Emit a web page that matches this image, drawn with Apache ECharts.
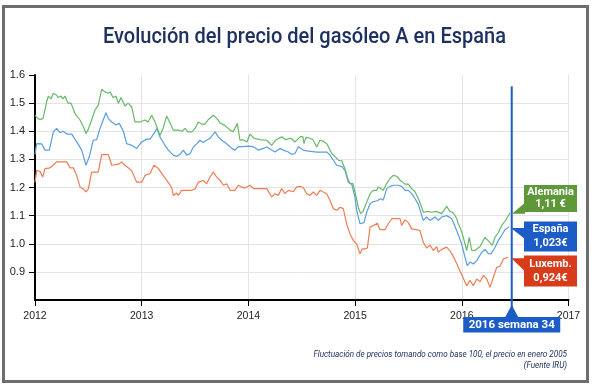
<!DOCTYPE html>
<html><head><meta charset="utf-8">
<script src="https://cdn.jsdelivr.net/npm/echarts@6/dist/echarts.min.js"></script>
<style>html,body{margin:0;padding:0;background:#fff}#c{width:594px;height:389px}</style>
</head><body><div id="c"></div>
<script>
// ---- data (decimal year, price) ----
const alemania = [[2012.000,1.457],[2012.028,1.445],[2012.047,1.442],[2012.075,1.445],[2012.110,1.505],[2012.125,1.525],[2012.150,1.515],[2012.172,1.535],[2012.197,1.530],[2012.216,1.520],[2012.244,1.525],[2012.262,1.515],[2012.281,1.525],[2012.309,1.500],[2012.337,1.500],[2012.375,1.463],[2012.422,1.440],[2012.453,1.416],[2012.478,1.392],[2012.497,1.405],[2012.531,1.440],[2012.562,1.475],[2012.593,1.493],[2012.625,1.549],[2012.656,1.540],[2012.684,1.535],[2012.703,1.540],[2012.731,1.520],[2012.759,1.525],[2012.781,1.499],[2012.806,1.520],[2012.843,1.490],[2012.872,1.500],[2012.906,1.487],[2012.937,1.433],[2012.984,1.433],[2013.031,1.440],[2013.059,1.433],[2013.094,1.457],[2013.125,1.433],[2013.171,1.385],[2013.200,1.410],[2013.234,1.454],[2013.265,1.430],[2013.296,1.404],[2013.340,1.404],[2013.378,1.400],[2013.406,1.410],[2013.434,1.398],[2013.471,1.398],[2013.500,1.410],[2013.530,1.433],[2013.565,1.425],[2013.593,1.425],[2013.621,1.440],[2013.671,1.457],[2013.706,1.445],[2013.734,1.430],[2013.781,1.420],[2013.828,1.404],[2013.858,1.398],[2013.896,1.428],[2013.921,1.368],[2013.949,1.370],[2013.987,1.362],[2014.015,1.390],[2014.053,1.375],[2014.109,1.370],[2014.172,1.368],[2014.218,1.350],[2014.259,1.370],[2014.312,1.380],[2014.352,1.370],[2014.399,1.375],[2014.437,1.362],[2014.484,1.380],[2014.509,1.382],[2014.521,1.356],[2014.540,1.378],[2014.577,1.375],[2014.605,1.370],[2014.640,1.344],[2014.671,1.368],[2014.699,1.365],[2014.737,1.355],[2014.781,1.321],[2014.812,1.310],[2014.843,1.297],[2014.874,1.295],[2014.905,1.267],[2014.933,1.230],[2014.952,1.214],[2014.980,1.214],[2014.999,1.184],[2015.030,1.130],[2015.052,1.107],[2015.074,1.115],[2015.109,1.148],[2015.140,1.178],[2015.171,1.190],[2015.202,1.190],[2015.217,1.202],[2015.233,1.196],[2015.264,1.190],[2015.296,1.214],[2015.327,1.232],[2015.358,1.243],[2015.390,1.240],[2015.421,1.226],[2015.468,1.212],[2015.499,1.212],[2015.530,1.196],[2015.562,1.185],[2015.593,1.160],[2015.624,1.130],[2015.639,1.112],[2015.683,1.115],[2015.718,1.112],[2015.758,1.115],[2015.812,1.107],[2015.858,1.133],[2015.889,1.115],[2015.920,1.110],[2015.952,1.090],[2015.967,1.071],[2015.992,1.050],[2016.014,1.023],[2016.046,0.976],[2016.070,1.023],[2016.093,0.976],[2016.124,0.976],[2016.171,0.990],[2016.218,1.023],[2016.249,1.010],[2016.286,0.994],[2016.311,1.023],[2016.343,1.040],[2016.374,1.065],[2016.405,1.080],[2016.452,1.110]];

const espana = [[2012.000,1.318],[2012.016,1.356],[2012.031,1.350],[2012.063,1.355],[2012.094,1.333],[2012.134,1.333],[2012.172,1.398],[2012.203,1.410],[2012.234,1.395],[2012.265,1.400],[2012.297,1.390],[2012.344,1.390],[2012.391,1.362],[2012.438,1.333],[2012.478,1.279],[2012.509,1.310],[2012.546,1.368],[2012.578,1.370],[2012.609,1.410],[2012.665,1.466],[2012.687,1.445],[2012.719,1.433],[2012.759,1.422],[2012.790,1.428],[2012.828,1.400],[2012.859,1.356],[2012.906,1.350],[2012.953,1.339],[2013.000,1.362],[2013.047,1.372],[2013.078,1.372],[2013.125,1.398],[2013.141,1.410],[2013.171,1.380],[2013.218,1.350],[2013.249,1.333],[2013.296,1.315],[2013.328,1.310],[2013.359,1.318],[2013.390,1.333],[2013.422,1.315],[2013.453,1.320],[2013.484,1.344],[2013.515,1.355],[2013.546,1.368],[2013.577,1.360],[2013.609,1.368],[2013.640,1.375],[2013.687,1.398],[2013.718,1.380],[2013.750,1.368],[2013.781,1.360],[2013.812,1.350],[2013.843,1.339],[2013.874,1.333],[2013.905,1.345],[2013.949,1.345],[2013.999,1.347],[2014.015,1.354],[2014.046,1.345],[2014.093,1.333],[2014.140,1.339],[2014.172,1.344],[2014.218,1.333],[2014.249,1.326],[2014.296,1.339],[2014.327,1.333],[2014.374,1.326],[2014.406,1.318],[2014.437,1.321],[2014.468,1.345],[2014.484,1.347],[2014.514,1.333],[2014.546,1.330],[2014.640,1.326],[2014.734,1.326],[2014.765,1.315],[2014.796,1.297],[2014.828,1.279],[2014.874,1.275],[2014.905,1.261],[2014.936,1.219],[2014.968,1.212],[2014.999,1.166],[2015.015,1.119],[2015.046,1.071],[2015.062,1.065],[2015.083,1.075],[2015.109,1.112],[2015.140,1.142],[2015.171,1.150],[2015.202,1.152],[2015.240,1.160],[2015.264,1.155],[2015.296,1.196],[2015.327,1.204],[2015.358,1.208],[2015.405,1.208],[2015.436,1.204],[2015.468,1.190],[2015.499,1.190],[2015.530,1.178],[2015.562,1.160],[2015.593,1.140],[2015.624,1.101],[2015.639,1.083],[2015.671,1.095],[2015.702,1.083],[2015.749,1.095],[2015.780,1.083],[2015.812,1.095],[2015.858,1.100],[2015.905,1.090],[2015.952,1.047],[2015.999,0.999],[2016.030,0.952],[2016.052,0.922],[2016.077,0.935],[2016.108,0.928],[2016.140,0.940],[2016.187,0.970],[2016.218,0.980],[2016.249,0.965],[2016.274,0.964],[2016.308,0.985],[2016.343,1.012],[2016.374,1.030],[2016.405,1.050],[2016.442,1.060]];

const luxemburgo = [[2012.000,1.218],[2012.016,1.261],[2012.047,1.257],[2012.072,1.237],[2012.094,1.267],[2012.141,1.270],[2012.172,1.280],[2012.203,1.291],[2012.297,1.291],[2012.328,1.270],[2012.359,1.270],[2012.391,1.243],[2012.422,1.202],[2012.453,1.195],[2012.478,1.184],[2012.500,1.195],[2012.531,1.255],[2012.593,1.255],[2012.625,1.317],[2012.687,1.317],[2012.719,1.279],[2012.781,1.283],[2012.813,1.291],[2012.843,1.279],[2012.874,1.270],[2012.906,1.260],[2012.953,1.219],[2013.000,1.219],[2013.031,1.243],[2013.078,1.250],[2013.115,1.279],[2013.156,1.268],[2013.187,1.250],[2013.234,1.226],[2013.281,1.200],[2013.296,1.172],[2013.328,1.180],[2013.343,1.172],[2013.375,1.190],[2013.469,1.190],[2013.500,1.195],[2013.530,1.219],[2013.577,1.225],[2013.609,1.213],[2013.640,1.237],[2013.671,1.255],[2013.703,1.237],[2013.734,1.226],[2013.765,1.208],[2013.797,1.213],[2013.828,1.190],[2013.874,1.190],[2013.905,1.208],[2013.937,1.202],[2013.968,1.198],[2014.015,1.208],[2014.046,1.196],[2014.172,1.196],[2014.218,1.166],[2014.249,1.178],[2014.280,1.172],[2014.312,1.196],[2014.343,1.178],[2014.374,1.190],[2014.421,1.185],[2014.453,1.202],[2014.484,1.204],[2014.514,1.200],[2014.546,1.178],[2014.577,1.172],[2014.608,1.184],[2014.640,1.172],[2014.671,1.190],[2014.702,1.184],[2014.734,1.178],[2014.765,1.154],[2014.796,1.125],[2014.828,1.119],[2014.859,1.130],[2014.889,1.125],[2014.921,1.071],[2014.952,1.035],[2014.983,1.012],[2015.015,0.999],[2015.046,0.964],[2015.067,0.982],[2015.093,0.982],[2015.115,0.985],[2015.140,1.059],[2015.171,1.065],[2015.208,1.073],[2015.233,1.050],[2015.280,1.050],[2015.311,1.071],[2015.343,1.089],[2015.390,1.089],[2015.421,1.089],[2015.436,1.065],[2015.468,1.085],[2015.499,1.075],[2015.530,1.053],[2015.577,1.050],[2015.608,1.047],[2015.639,1.005],[2015.671,0.985],[2015.702,0.995],[2015.733,0.976],[2015.765,0.990],[2015.780,0.970],[2015.812,0.980],[2015.858,0.988],[2015.889,0.975],[2015.920,0.955],[2015.952,0.930],[2015.999,0.890],[2016.046,0.851],[2016.077,0.870],[2016.108,0.851],[2016.140,0.875],[2016.171,0.865],[2016.202,0.887],[2016.234,0.875],[2016.264,0.845],[2016.295,0.880],[2016.327,0.916],[2016.358,0.920],[2016.390,0.946],[2016.436,0.952]];

const seriesNames = ['Alemania', 'España', 'Luxemb.'];
const endValueLabels = ['1,11 €', '1,023€', '0,924€'];
const xYears = [2012, 2013, 2014, 2015, 2016, 2017];
const yRange = [0.8, 1.6];
const markerYear = 2016.468;
const markerLabel = '2016 semana 34';
const titleText = 'Evolución del precio del gasóleo A en España';
const noteLines = ['Fluctuación de precios tomando como base 100, el precio en enero 2005', '(Fuente IRU)'];

// ---- styling ----
const lineColors = ['#67b868', '#5b9ee0', '#ee7c55'];
const boxColors = ['#5f9838', '#1c5cc6', '#d83b1a'];
const navy = '#1e3160';

const chart = echarts.init(document.getElementById('c'), null, {renderer: 'canvas'});
const seriesData = [alemania, espana, luxemburgo];

chart.setOption({
  animation: false,
  backgroundColor: '#fff',
  grid: {left: 35, right: 25.5, top: 75, bottom: 89, containLabel: false},
  xAxis: {
    type: 'value', min: xYears[0], max: xYears[xYears.length - 1], interval: 1,
    axisLine: {onZero: false, lineStyle: {color: '#000', width: 2}},
    axisTick: {show: true, length: 6, lineStyle: {color: '#000', width: 1}},
    axisLabel: {margin: 11, color: '#222', fontSize: 10.5, fontFamily: 'Liberation Sans', formatter: v => String(v)},
    splitLine: {show: true, lineStyle: {color: '#e4e4e4', width: 1}}
  },
  yAxis: {
    type: 'value', min: yRange[0], max: yRange[1], interval: 0.1,
    axisLine: {show: true, lineStyle: {color: '#000', width: 2}},
    axisTick: {show: true, length: 6, lineStyle: {color: '#000', width: 1}},
    axisLabel: {margin: 10, color: '#222', fontSize: 11, fontFamily: 'Liberation Sans', showMinLabel: false, formatter: v => v.toFixed(1)},
    splitLine: {show: true, showMaxLine: false, lineStyle: {color: '#e4e4e4', width: 1}}
  },
  series: seriesData.map((d, i) => ({
    name: seriesNames[i], type: 'line', data: d, showSymbol: false, symbol: 'none',
    lineStyle: {color: lineColors[i], width: 1.2}, z: 3 - i
  }))
});

// ---- annotations positioned from the library's scales ----
const ends = seriesData.map(d => chart.convertToPixel({gridIndex: 0}, d[d.length - 1]));
const mx = chart.convertToPixel({xAxisIndex: 0}, markerYear);
const mTop = chart.convertToPixel({yAxisIndex: 0}, 1.56);

const boxLeft = 524, boxW = 53;
const boxes = [
  {top: 185, h: 27, tri: e => [[e[0] + 2, e[1] + 1], [boxLeft + 1, e[1] - 10], [boxLeft + 1, e[1] + 1]]},
  {top: 221.5, h: 30, tri: e => [[e[0] + 2, e[1] + 1], [boxLeft + 1, e[1] + 1], [boxLeft + 1, e[1] + 12]]},
  {top: 255.5, h: 31, tri: e => [[e[0] + 3, e[1] + 1], [boxLeft + 1, e[1] + 1], [boxLeft + 1, e[1] + 14]]}
];

const g = [];
// frame
g.push({type: 'rect', shape: {x: 3.5, y: 6.5, width: 584, height: 375}, style: {fill: 'none', stroke: '#6e6e6e', lineWidth: 3}, z: 100});
// title
g.push({type: 'text', x: 304.5, y: 37, scaleX: 0.91, style: {text: titleText, fill: navy, font: '500 22px Roboto', align: 'center', verticalAlign: 'middle'}, z: 100});
// note
noteLines.forEach((t, i) => g.push({type: 'text', x: 567, y: 355 + i * 11, scaleX: 0.9, style: {text: t, fill: navy, font: 'italic 9px Roboto', align: 'right', verticalAlign: 'middle'}, z: 100}));
// marker line
g.push({type: 'line', shape: {x1: mx, y1: mTop, x2: mx, y2: 318}, style: {stroke: '#1c5cc6', lineWidth: 2}, z: 100});
g.push({type: 'polygon', shape: {points: [[mx, 305], [mx - 7, 318], [mx + 7, 318]]}, style: {fill: '#1c5cc6'}, z: 100});
g.push({type: 'rect', shape: {x: mx - 48.5, y: 317, width: 97, height: 15.5}, style: {fill: '#1c5cc6'}, z: 100});
g.push({type: 'text', x: mx, y: 325, style: {text: markerLabel, fill: '#fff', font: 'bold 11.5px Roboto', align: 'center', verticalAlign: 'middle'}, z: 101});
// end labels
boxes.forEach((b, i) => {
  g.push({type: 'polygon', shape: {points: b.tri(ends[i])}, style: {fill: boxColors[i]}, z: 100});
  g.push({type: 'rect', shape: {x: boxLeft, y: b.top, width: boxW, height: b.h}, style: {fill: boxColors[i]}, z: 100});
  g.push({type: 'text', x: boxLeft + boxW / 2, y: b.top + b.h * 0.27, style: {text: seriesNames[i], fill: '#fff', font: 'bold 11px Roboto', align: 'center', verticalAlign: 'middle'}, z: 101});
  g.push({type: 'text', x: boxLeft + boxW / 2, y: b.top + b.h * 0.73, style: {text: endValueLabels[i], fill: '#fff', font: 'bold 11px Roboto', align: 'center', verticalAlign: 'middle'}, z: 101});
});
chart.setOption({graphic: g});
</script>
</body></html>
